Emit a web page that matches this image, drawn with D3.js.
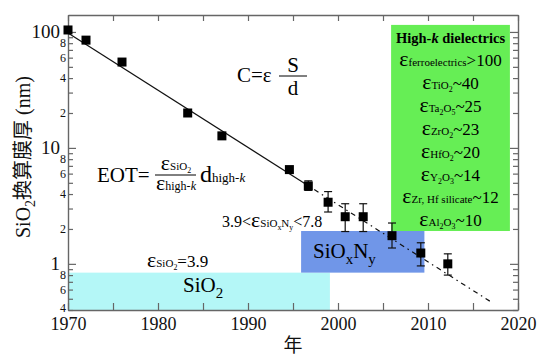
<!DOCTYPE html>
<html>
<head>
<meta charset="utf-8">
<script src="https://cdn.jsdelivr.net/npm/d3@7"></script>
<style>
  body { margin: 0; background: #fff; }
</style>
</head>
<body>
<div id="chart-area"></div>
<script>
// data
var years = [1970, 1972, 1976, 1983.3, 1987.1, 1994.6, 1996.7, 1998.9, 2000.8, 2002.8, 2006, 2009.2, 2012.2];
var eot   = [104, 85, 55, 20, 12.7, 6.5, 4.7, 3.4, 2.55, 2.55, 1.75, 1.24, 1.0];
var errLo = [null, null, null, null, null, null, 4.3, 2.8, 1.9, 1.9, 1.37, 0.96, 0.8];
var errHi = [null, null, null, null, null, null, 5.2, 4.2, 3.3, 3.3, 2.25, 1.52, 1.22];

var trendSolid  = [[1970, 98], [1996, 5.1]];
var trendDashed = [[1996, 5.1], [2017, 0.47]];

// shaded regions: [x0, x1, y0, y1]
var sio2Box   = [1970, 1999.1, 0.4, 0.84];
var sionBox   = [1995.9, 2009.6, 0.84, 1.92];
var highkBox  = [2005.9, 2019.1, 1.92, 115];

var xTicks = [1970, 1980, 1990, 2000, 2010, 2020];
var yMajor = [1, 10, 100];
var yMinorLabels = [0.4, 0.6, 0.8, 2, 4, 6, 8, 20, 40, 60, 80];

var dielectrics = [
	["ferroelectrics", ">100"],
	["TiO2", "~40"],
	["Ta2O5", "~25"],
	["ZrO2", "~23"],
	["HfO2", "~20"],
	["Y2O3", "~14"],
	["Zr, Hf silicate", "~12"],
	["Al2O3", "~10"]
];

var serif = "'Liberation Serif', 'DejaVu Serif', serif";
var W = 539, H = 356;
var margin = {left: 68, right: 21, top: 15, bottom: 46};
var width = W - margin.left - margin.right,
	height = H - margin.top - margin.bottom;

var svg = d3.select("#chart-area").append("svg")
	.attr("width", W).attr("height", H)
	.attr("font-family", serif);
var g = svg.append("g")
	.attr("transform", "translate(" + margin.left + "," + margin.top + ")");

var x = d3.scaleLinear().domain([1970, 2020]).range([0, width]);
var y = d3.scaleLog().domain([0.4, 140]).range([height, 0]);

// boxes
function box(b, color) {
	g.append("rect")
		.attr("x", x(b[0]))
		.attr("width", x(b[1]) - x(b[0]))
		.attr("y", y(b[3]))
		.attr("height", y(b[2]) - y(b[3]))
		.attr("fill", color);
}
box(sio2Box, "#b4f7f7");
box(sionBox, "#7096e8");
box(highkBox, "#66ee55");

// ticks
var allY = [];
[0.1, 1, 10, 100].forEach(function(dec){
	for (var i = 1; i < 10; i++) {
		var v = +(dec * i).toPrecision(3);
		if (v >= 0.4 && v <= 140) allY.push(v);
	}
});
var fiveYears = d3.range(1970, 2021, 5);
var axisColor = "#666";

function styleAxis(sel) {
	sel.attr("font-family", serif);
	sel.selectAll("path").attr("stroke", axisColor).attr("stroke-width", 1.4);
	sel.selectAll("line").attr("stroke", axisColor).attr("stroke-width", 1.2);
}

function isMajor(v) { return yMajor.indexOf(v) >= 0; }

var leftAxis = g.append("g").call(d3.axisLeft(y).tickValues(allY).tickFormat("").tickSizeOuter(0).tickSizeInner(-5));
leftAxis.selectAll(".tick line").attr("x2", function(d){ return isMajor(d) ? 8 : 5; });
styleAxis(leftAxis);

var rightAxis = g.append("g").attr("transform", "translate(" + width + ",0)")
	.call(d3.axisRight(y).tickValues(allY).tickFormat("").tickSizeOuter(0).tickSizeInner(-5));
rightAxis.selectAll(".tick line").attr("x2", function(d){ return isMajor(d) ? -8 : -5; });
styleAxis(rightAxis);

var bottomAxis = g.append("g").attr("transform", "translate(0," + height + ")")
	.call(d3.axisBottom(x).tickValues(fiveYears).tickSizeOuter(0).tickSizeInner(-7).tickPadding(7)
		.tickFormat(function(d){ return xTicks.indexOf(d) >= 0 ? d : ""; }));
styleAxis(bottomAxis);
bottomAxis.selectAll("text").attr("font-size", 18).attr("fill", "#111");

var topAxis = g.append("g")
	.call(d3.axisTop(x).tickValues(fiveYears).tickFormat("").tickSizeOuter(0).tickSizeInner(-6));
styleAxis(topAxis);

// y tick labels
g.selectAll(".ymaj").data(yMajor).enter().append("text")
	.attr("x", -8).attr("y", function(d){ return y(d); })
	.attr("dy", "0.34em").attr("text-anchor", "end")
	.attr("font-size", 19).attr("fill", "#111")
	.text(function(d){ return d; });
g.selectAll(".ymin").data(yMinorLabels).enter().append("text")
	.attr("x", -2).attr("y", function(d){ return y(d) - (d === 0.4 ? 2 : 0); })
	.attr("dy", "0.34em").attr("text-anchor", "end")
	.attr("font-size", 12).attr("fill", "#111")
	.text(function(d){ return String(d).replace("0.", "").charAt(0); });

// trend lines
var line = d3.line().x(function(d){ return x(d[0]); }).y(function(d){ return y(d[1]); });
g.append("path").datum(trendSolid).attr("d", line)
	.attr("fill", "none").attr("stroke", "#111").attr("stroke-width", 1.2);
g.append("path").datum(trendDashed).attr("d", line)
	.attr("fill", "none").attr("stroke", "#111").attr("stroke-width", 1.2)
	.attr("stroke-dasharray", "5,4,1.5,4");

// error bars + points
var pts = years.map(function(yr, i){ return {yr: yr, v: eot[i], lo: errLo[i], hi: errHi[i]}; });
var eb = g.selectAll(".eb").data(pts.filter(function(d){ return d.lo; })).enter().append("g")
	.attr("stroke", "#111").attr("stroke-width", 1.2);
eb.append("line").attr("x1", function(d){ return x(d.yr); }).attr("x2", function(d){ return x(d.yr); })
	.attr("y1", function(d){ return y(d.lo); }).attr("y2", function(d){ return y(d.hi); });
["lo", "hi"].forEach(function(k){
	eb.append("line")
		.attr("x1", function(d){ return x(d.yr) - 4; }).attr("x2", function(d){ return x(d.yr) + 4; })
		.attr("y1", function(d){ return y(d[k]); }).attr("y2", function(d){ return y(d[k]); });
});
var sq = 9;
g.selectAll(".pt").data(pts).enter().append("rect")
	.attr("x", function(d){ return x(d.yr) - sq/2; })
	.attr("y", function(d){ return y(d.v) - sq/2; })
	.attr("width", sq).attr("height", sq).attr("fill", "#000");

// rich text helper: eps + subscript (digits go lower) + rest
function epsText(parent, px, py, anchor, sub, rest, sizes) {
	var t = parent.append("text").attr("x", px).attr("y", py)
		.attr("text-anchor", anchor).attr("fill", "#000");
	var off = 0;
	function shift(to) { var d = to - off; off = to; return d; }
	if (sizes.pre) t.append("tspan").attr("font-size", sizes.rest).text(sizes.pre);
	t.append("tspan").attr("font-size", sizes.eps).text("ε");
	sub.split(/(\d|[xy](?=$|N))/).filter(function(s){ return s; }).forEach(function(s){
		var low = /^(\d|x|y)$/.test(s);
		t.append("tspan").attr("font-size", low ? sizes.sub * 0.72 : sizes.sub)
			.attr("dy", shift(low ? 3 : 0)).text(s);
	});
	if (rest) t.append("tspan").attr("font-size", sizes.rest).attr("dy", shift(0)).text(rest);
	return t;
}

// High-k list
var hk = g.append("g");
var cx = (x(highkBox[0]) + x(highkBox[1])) / 2;
var title = hk.append("text").attr("x", cx).attr("y", 28).attr("text-anchor", "middle")
	.attr("font-size", 14.5).attr("font-weight", "bold");
title.append("tspan").text("High-");
title.append("tspan").attr("font-style", "italic").text("k");
title.append("tspan").text(" dielectrics");
dielectrics.forEach(function(d, i){
	epsText(hk, cx, 51 + i * 22.9, "middle", d[0], d[1], {eps: 22, sub: 11, rest: 17});
});

// SiO2 eps
epsText(g, 147 - margin.left, 267 - margin.top, "start", "SiO2", "=3.9", {eps: 22, sub: 11, rest: 17});
epsText(g, 222 - margin.left, 227 - margin.top, "start", "SiOxNy", "<7.8", {eps: 22, sub: 11, rest: 16, pre: "3.9<"});

// box labels
var s1 = g.append("text").attr("x", 183 - margin.left).attr("y", 292 - margin.top).attr("font-size", 21);
s1.append("tspan").text("SiO");
s1.append("tspan").attr("font-size", 15).attr("dy", 6).text("2");
var s2 = g.append("text").attr("x", 313 - margin.left).attr("y", 258 - margin.top).attr("font-size", 21);
s2.append("tspan").text("SiO");
s2.append("tspan").attr("font-size", 15).attr("dy", 6).text("x");
s2.append("tspan").attr("dy", -6).text("N");
s2.append("tspan").attr("font-size", 15).attr("dy", 6).text("y");

// C = eps S/d
var ann = svg.append("g");
ann.append("text").attr("x", 237).attr("y", 82).attr("font-size", 21).text("C=ε");
ann.append("line").attr("x1", 279).attr("x2", 307).attr("y1", 76).attr("y2", 76)
	.attr("stroke", "#000").attr("stroke-width", 1);
ann.append("text").attr("x", 293).attr("y", 72).attr("text-anchor", "middle").attr("font-size", 21).text("S");
ann.append("text").attr("x", 293).attr("y", 95).attr("text-anchor", "middle").attr("font-size", 21).text("d");

// EOT formula
ann.append("text").attr("x", 97).attr("y", 182).attr("font-size", 21).text("EOT=");
ann.append("line").attr("x1", 155).attr("x2", 196).attr("y1", 175).attr("y2", 175)
	.attr("stroke", "#000").attr("stroke-width", 1);
epsText(ann, 176, 170, "middle", "SiO2", "", {eps: 22, sub: 11, rest: 11});
var den = ann.append("text").attr("x", 176).attr("y", 190).attr("text-anchor", "middle");
den.append("tspan").attr("font-size", 22).text("ε");
den.append("tspan").attr("font-size", 12).text("high-");
den.append("tspan").attr("font-size", 12).attr("font-style", "italic").text("k");
var dd = ann.append("text").attr("x", 200).attr("y", 182);
dd.append("tspan").attr("font-size", 24).text("d");
dd.append("tspan").attr("font-size", 13).text("high-");
dd.append("tspan").attr("font-size", 13).attr("font-style", "italic").text("k");

// axis labels
var yl = svg.append("text").attr("transform", "translate(30,157) rotate(-90)")
	.attr("text-anchor", "middle").attr("font-size", 20).attr("fill", "#111");
yl.append("tspan").text("SiO");
yl.append("tspan").attr("font-size", 14).attr("dy", 5).text("2");
yl.append("tspan").attr("dy", -5).attr("font-family", "'Noto Sans CJK JP'").text("換算膜厚");
yl.append("tspan").text(" (nm)");

svg.append("text").attr("x", margin.left + width / 2).attr("y", 352)
	.attr("text-anchor", "middle").attr("font-size", 19)
	.attr("font-family", "'Noto Sans CJK JP'").attr("fill", "#111").text("年");
</script>
</body>
</html>
